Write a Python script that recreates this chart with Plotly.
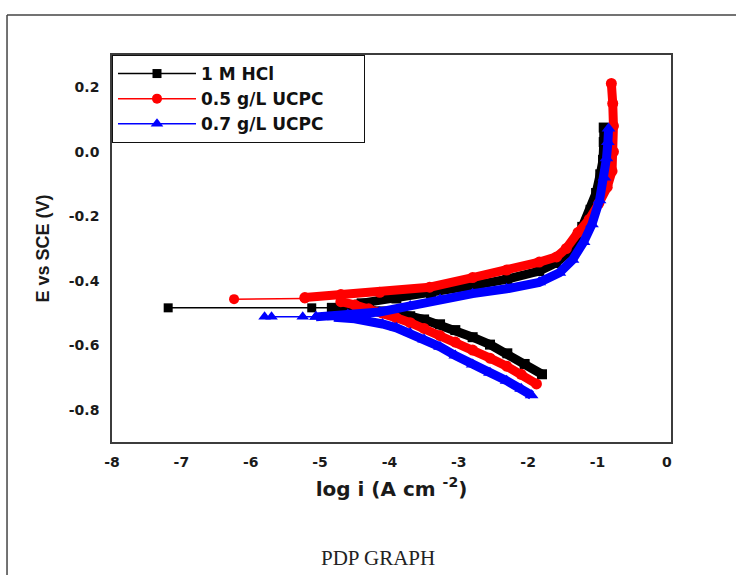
import plotly.graph_objects as go

# ---------------- data ----------------
# 1 M HCl
hcl_tail_x = [-7.19, -5.12, -4.83]
hcl_tail_y = [-0.484, -0.484, -0.484]
hcl_cath_x = [-1.80, -2.05, -2.30, -2.55, -2.80, -3.05, -3.27, -3.50, -3.70, -3.90, -4.10, -4.30, -4.50, -4.70]
hcl_cath_y = [-0.690, -0.658, -0.625, -0.598, -0.575, -0.553, -0.535, -0.520, -0.510, -0.502, -0.495, -0.490, -0.487, -0.485]
hcl_anod_x = [-4.83, -4.40, -3.90, -3.40, -2.80, -2.30, -1.84, -1.60, -1.43, -1.30, -1.22, -1.10, -1.02, -0.96, -0.92, -0.91, -0.91]
hcl_anod_y = [-0.484, -0.470, -0.455, -0.440, -0.415, -0.395, -0.370, -0.345, -0.314, -0.275, -0.233, -0.180, -0.128, -0.070, -0.025, 0.030, 0.075]

# 0.5 g/L UCPC
red_tail_x = [-6.24, -5.22]
red_tail_y = [-0.457, -0.455]
red_cath_x = [-1.88, -2.10, -2.31, -2.55, -2.80, -3.05, -3.27, -3.50, -3.70, -3.90, -4.10, -4.30, -4.50, -4.70]
red_cath_y = [-0.720, -0.690, -0.665, -0.640, -0.615, -0.590, -0.570, -0.548, -0.530, -0.515, -0.500, -0.487, -0.475, -0.465]
red_anod_x = [-5.22, -4.70, -4.14, -3.42, -2.80, -2.31, -1.84, -1.59, -1.45, -1.28, -1.12, -0.98, -0.86, -0.79, -0.77, -0.77, -0.78, -0.80]
red_anod_y = [-0.452, -0.443, -0.436, -0.420, -0.390, -0.367, -0.342, -0.326, -0.300, -0.250, -0.210, -0.160, -0.110, -0.060, 0.000, 0.080, 0.150, 0.212]

# 0.7 g/L UCPC
blue_tail_x = [-5.80, -5.70, -5.25, -5.06]
blue_tail_y = [-0.512, -0.512, -0.512, -0.512]
blue_cath_x = [-1.95, -2.10, -2.31, -2.55, -2.80, -3.05, -3.27, -3.50, -3.70, -3.90, -4.10, -4.30, -4.50, -4.80]
blue_cath_y = [-0.755, -0.735, -0.710, -0.685, -0.660, -0.632, -0.605, -0.582, -0.562, -0.546, -0.534, -0.524, -0.518, -0.513]
blue_anod_x = [-5.06, -4.60, -4.14, -3.70, -3.27, -2.80, -2.31, -1.84, -1.55, -1.36, -1.20, -1.08, -0.97, -0.90, -0.87, -0.85, -0.84]
blue_anod_y = [-0.512, -0.505, -0.497, -0.478, -0.458, -0.440, -0.425, -0.405, -0.375, -0.335, -0.280, -0.225, -0.150, -0.080, -0.020, 0.030, 0.072]

series_names = ["1 M HCl", "0.5 g/L UCPC", "0.7 g/L UCPC"]

x_tickvals = [-8, -7, -6, -5, -4, -3, -2, -1, 0]
x_ticktext = ["-8", "-7", "-6", "-5", "-4", "-3", "-2", "-1", "0"]
y_tickvals = [-0.8, -0.6, -0.4, -0.2, 0.0, 0.2]
y_ticktext = ["-0.8", "-0.6", "-0.4", "-0.2", "0.0", "0.2"]

# ---------------- figure ----------------
fig = go.Figure()

specs = [
    (series_names[0], "#000000", "square", 9, hcl_tail_x, hcl_tail_y, hcl_cath_x, hcl_cath_y, hcl_anod_x, hcl_anod_y),
    (series_names[1], "#ff0000", "circle", 10, red_tail_x, red_tail_y, red_cath_x, red_cath_y, red_anod_x, red_anod_y),
    (series_names[2], "#0000ff", "triangle-up", 11, blue_tail_x, blue_tail_y, blue_cath_x, blue_cath_y, blue_anod_x, blue_anod_y),
]

pad = "\u00a0" * 6
for name, color, sym, msize, tx, ty, cx, cy, ax, ay in specs:
    fig.add_trace(go.Scatter(
        x=tx, y=ty, mode="lines+markers", name=name + pad, legendgroup=name,
        line=dict(color=color, width=1.5),
        marker=dict(color=color, symbol=sym, size=msize),
        showlegend=True,
    ))
    for bx, by in ((cx, cy), (ax, ay)):
        fig.add_trace(go.Scatter(
            x=bx, y=by, mode="lines+markers", legendgroup=name,
            line=dict(color=color, width=9),
            marker=dict(color=color, symbol=sym, size=msize + 1),
            showlegend=False, hoverinfo="skip",
        ))

axis_line = dict(showline=True, linecolor="#3c3c3c", linewidth=1.6, mirror=True,
                 showgrid=False, zeroline=False, ticks="")

fig.update_xaxes(
    range=[-8, 0.06], tickvals=x_tickvals, ticktext=x_ticktext,
    tickfont=dict(family="DejaVu Sans", size=14, color="#1a1a1a", weight="bold"),
    ticklabelstandoff=6,
    title=dict(text="log i (A cm <sup>-2</sup>)",
               font=dict(family="DejaVu Sans", size=20, color="#1a1a1a", weight="bold"),
               standoff=13),
    **axis_line,
)
fig.update_yaxes(
    range=[-0.9, 0.3], tickvals=y_tickvals, ticktext=y_ticktext,
    tickfont=dict(family="DejaVu Sans", size=14, color="#1a1a1a", weight="bold"),
    ticklabelstandoff=8,
    title=dict(text="E vs SCE (V)",
               font=dict(family="Liberation Sans", size=18, color="#1a1a1a", weight="bold"),
               standoff=14),
    **axis_line,
)

fig.update_layout(
    width=736, height=575,
    margin=dict(l=112, r=65, t=55, b=133),
    paper_bgcolor="white", plot_bgcolor="white",
    legend=dict(x=0, y=1, xanchor="left", yanchor="top",
                bordercolor="#111111", borderwidth=1, bgcolor="white",
                font=dict(family="DejaVu Sans", size=17, color="#111111", weight="bold"),
                itemwidth=78, tracegroupgap=0),
    shapes=[
        dict(type="line", xref="paper", yref="paper", x0=-0.1878, x1=1.13, y0=1.1034, y1=1.1034,
             line=dict(color="#444444", width=1.5)),
        dict(type="line", xref="paper", yref="paper", x0=-0.1878, x1=-0.1878, y0=1.1034, y1=-0.36,
             line=dict(color="#444444", width=1.5)),
    ],
    annotations=[
        dict(text="PDP GRAPH", xref="paper", yref="paper", x=0.4758, y=-0.2997,
             xanchor="center", yanchor="middle", showarrow=False,
             font=dict(family="Liberation Serif", size=21, color="#222222")),
    ],
)

fig.write_html("out.html", config={"displayModeBar": False},
               post_script="document.body.style.margin='0';")
